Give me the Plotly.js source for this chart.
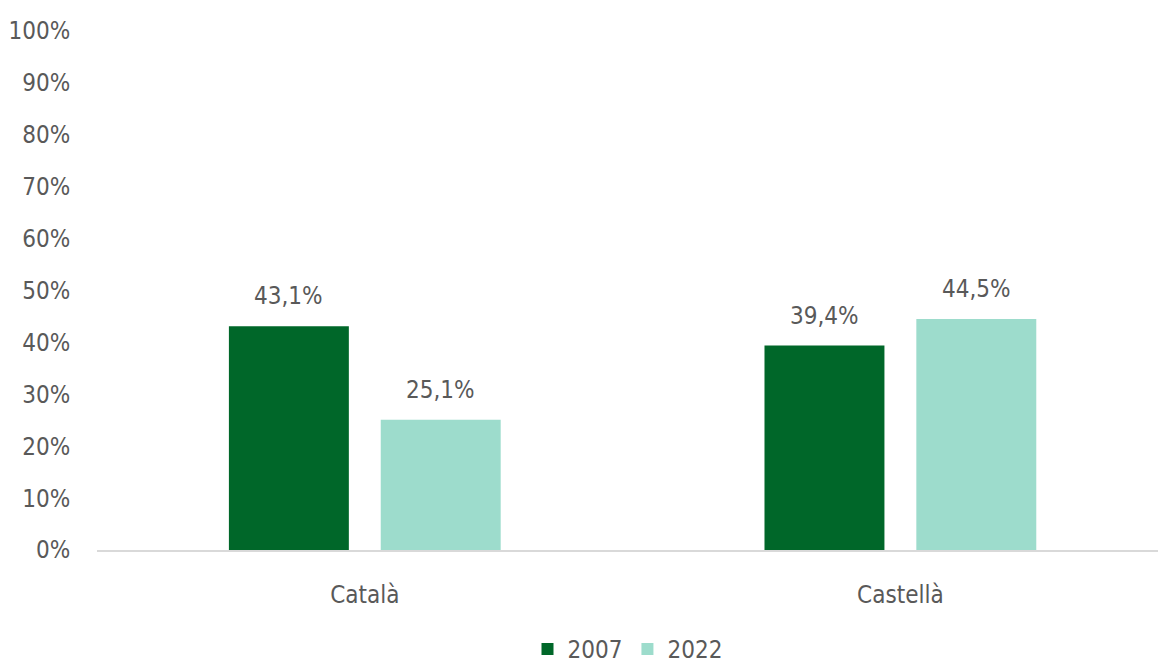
<!DOCTYPE html>
<html>
<head>
<meta charset="utf-8">
<script src="https://cdn.plot.ly/plotly-3.0.1.min.js"></script>
<style>
  html, body { margin: 0; padding: 0; background: #ffffff; }
  #chart { width: 1158px; height: 664px; }
</style>
</head>
<body>
<div id="chart"></div>
<script>
// Language categories and the share for each survey year (%)
const categories = ['Català', 'Castellà'];
const years = ['2007', '2022'];
const values2007 = [43.1, 39.4];
const values2022 = [25.1, 44.5];
const seriesColors = ['#006729', '#9ddccc'];

const FONT = '"DejaVu Sans Condensed", "Liberation Sans Narrow", "Arial Narrow", sans-serif';
const TEXT_COLOR = '#595959';
const FONT_SIZE = 24;

const BAR_GAP = 0.433;
const BAR_GROUP_GAP = 0.21;

const seriesValues = [values2007, values2022];
const traces = years.map((yr, i) => ({
  type: 'bar',
  name: yr,
  x: categories,
  y: seriesValues[i],
  marker: { color: seriesColors[i], line: { width: 0 } },
  hoverinfo: 'skip'
}));

// Value labels above each bar, placed at the centre of its slot in the group
const slot = (1 - BAR_GAP) / years.length;
const annotations = [];
seriesValues.forEach((vals, s) => {
  vals.forEach((v, c) => {
    annotations.push({
      xref: 'x', yref: 'y',
      x: c + (s - (years.length - 1) / 2) * slot,
      y: v,
      text: v.toFixed(1).replace('.', ',') + '%',
      showarrow: false,
      yanchor: 'bottom',
      yshift: 14,
      font: { family: FONT, size: FONT_SIZE, color: TEXT_COLOR }
    });
  });
});

const layout = {
  width: 1158,
  height: 664,
  margin: { l: 97, r: 0, t: 31, b: 114 },
  paper_bgcolor: '#ffffff',
  plot_bgcolor: '#ffffff',
  separators: ',.',
  font: { family: FONT, size: FONT_SIZE, color: TEXT_COLOR },
  barmode: 'group',
  bargap: BAR_GAP,
  bargroupgap: BAR_GROUP_GAP,
  showlegend: true,
  legend: {
    orientation: 'h',
    xref: 'paper',
    x: 0.5, xanchor: 'center',
    yref: 'container',
    y: 0.056, yanchor: 'top',
    font: { family: FONT, size: FONT_SIZE, color: TEXT_COLOR },
    traceorder: 'normal'
  },
  annotations: annotations,
  xaxis: {
    type: 'category',
    range: [-0.5, 1.481],
    showline: true,
    linecolor: '#d9d9d9',
    linewidth: 2,
    showgrid: false,
    zeroline: false,
    ticks: 'outside',
    ticklen: 22,
    tickcolor: 'rgba(0,0,0,0)',
    tickfont: { family: FONT, size: FONT_SIZE, color: TEXT_COLOR }
  },
  yaxis: {
    range: [0, 100],
    dtick: 10,
    tick0: 0,
    ticksuffix: '%',
    showline: false,
    showgrid: false,
    zeroline: false,
    ticks: 'outside',
    ticklen: 21,
    tickcolor: 'rgba(0,0,0,0)',
    tickfont: { family: FONT, size: FONT_SIZE, color: TEXT_COLOR }
  }
};

Plotly.newPlot('chart', traces, layout, { displayModeBar: false, staticPlot: true });
</script>
</body>
</html>
